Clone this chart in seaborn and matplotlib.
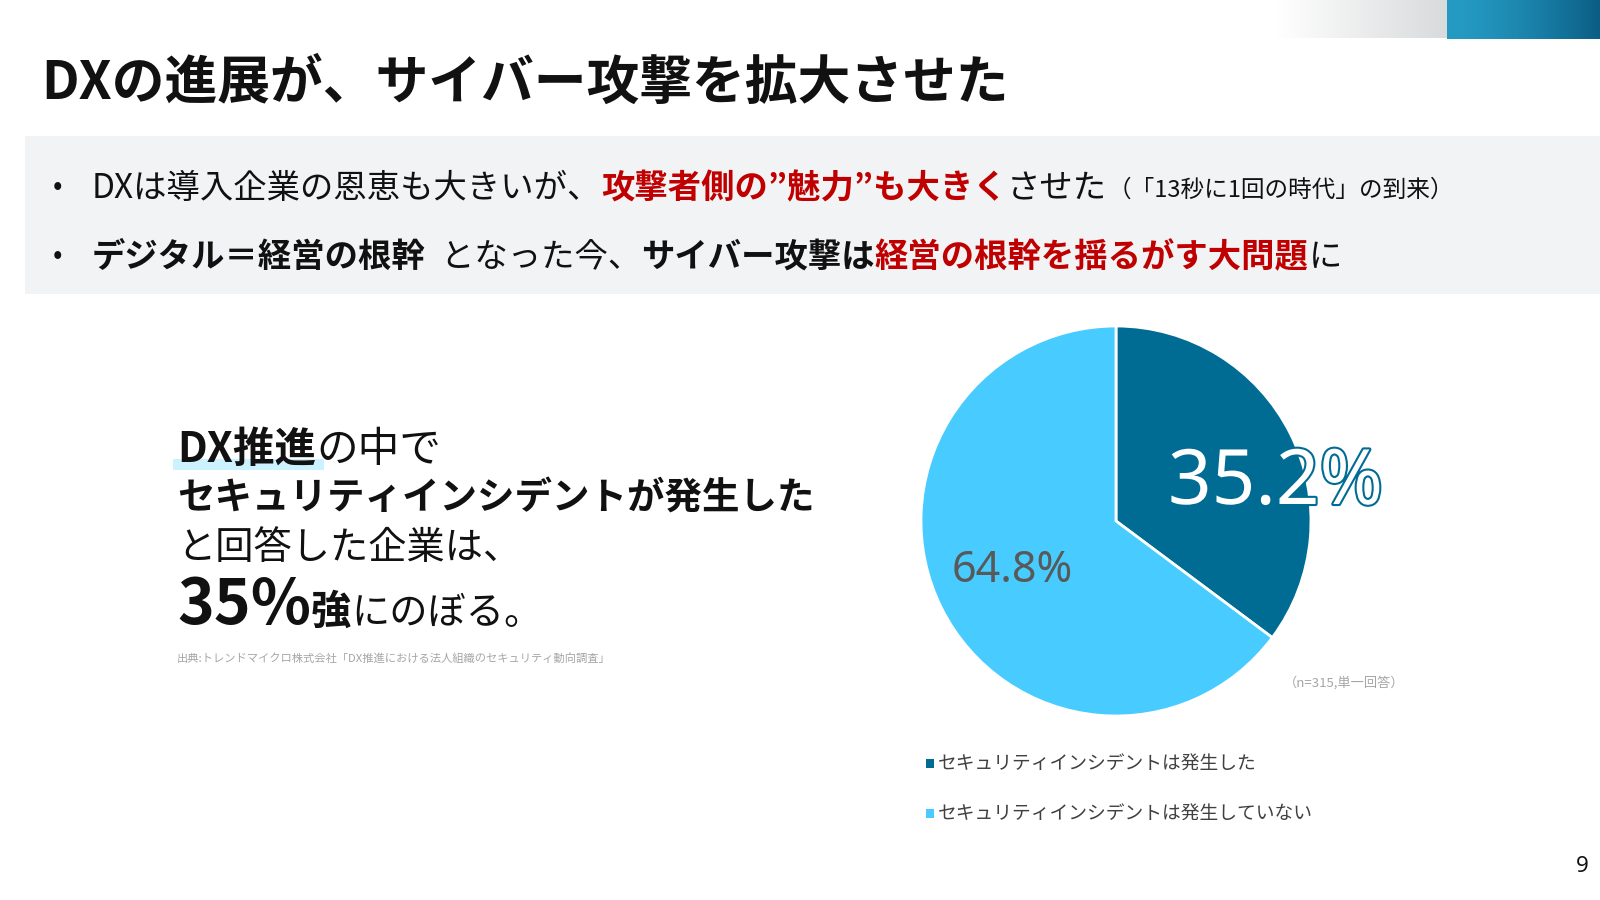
import numpy as np
import matplotlib
matplotlib.use("Agg")
import matplotlib.pyplot as plt
import matplotlib.patheffects as pe
from matplotlib.patches import Rectangle, Patch
import seaborn as sns

# ---------------- data ----------------
categories = ["セキュリティインシデントは発生した", "セキュリティインシデントは発生していない"]
shares = [35.2, 64.8]
share_labels = ["35.2%", "64.8%"]
title_text = "DXの進展が、サイバー攻撃を拡大させた"
bullet1 = [("DXは導入企業の恩恵も大きいが、", "k", "normal"),
           ("攻撃者側の”魅力”も大きく", "r", "bold"),
           ("させた", "k", "normal")]
bullet1_note = "（「13秒に1回の時代」の到来）"
bullet2 = [("デジタル＝経営の根幹", "k", "bold"),
           ("  となった今、", "k", "normal"),
           ("サイバー攻撃は", "k", "bold"),
           ("経営の根幹を揺るがす大問題", "r", "bold"),
           ("に", "k", "normal")]
source_text = "出典:トレンドマイクロ株式会社「DX推進における法人組織のセキュリティ動向調査」"
n_text = "（n=315,単一回答）"
page_no = "9"

# ---------------- style ----------------
sns.set_theme(style="white")
plt.rcParams['font.family'] = ['Noto Sans CJK JP', 'DejaVu Sans']
DARK = "#006C94"
LIGHT = "#48CCFF"
RED = "#C00000"
BLACK = "#111111"
palette = sns.color_palette([DARK, LIGHT])
colmap = {"k": BLACK, "r": RED}

W, H = 1600, 900
fig = plt.figure(figsize=(16, 9), dpi=100, facecolor="white")

# pie axes (pixel geometry: center 1116,521 radius 195)
cx, cy, R = 1116, 521, 195
pax = fig.add_axes([(cx - R) / W, 1 - (cy + R) / H, 2 * R / W, 2 * R / H], zorder=1)
wedges, _ = pax.pie(shares, colors=palette, startangle=90, counterclock=False,
                    radius=1, wedgeprops=dict(edgecolor="white", linewidth=2))
pax.set_xlim(-1, 1)
pax.set_ylim(-1, 1)
pax.set_aspect("equal")
pax.axis("off")

# overlay axes in pixel coordinates
bg = fig.add_axes([0, 0, 1, 1], zorder=2)
bg.patch.set_alpha(0)
bg.axis("off")

# top-right decorations
g = np.linspace(0, 1, 256)
gray = np.ones((2, 256, 4))
for i, (a, b) in enumerate(zip((1, 1, 1), (0.85, 0.855, 0.86))):
    gray[:, :, i] = a + (b - a) * g
bg.imshow(gray, extent=[1276, 1447, 38, 0], aspect="auto", interpolation="bilinear")
blue = np.ones((2, 256, 4))
c0 = np.array([0x25, 0x9B, 0xC4]) / 255
c1 = np.array([0x0B, 0x5D, 0x84]) / 255
for i in range(3):
    blue[:, :, i] = c0[i] + (c1[i] - c0[i]) * g ** 1.5
bg.imshow(blue, extent=[1447, 1600, 39, 0], aspect="auto", interpolation="bilinear")

bg.set_xlim(0, W)
bg.set_ylim(H, 0)

# gray band
bg.add_patch(Rectangle((25, 136), W - 25, 158, color="#F2F3F5", lw=0, zorder=0))

renderer = fig.canvas.get_renderer()


def draw_runs(x, y, parts, **kw):
    for txt, color, weight, size in parts:
        t = bg.text(x, y, txt, color=color, fontweight=weight, fontsize=size,
                    va="baseline", ha="left", **kw)
        bb = t.get_window_extent(renderer=renderer)
        x += bb.width
    return x


# title
bg.text(41, 99, title_text, fontsize=38, fontweight="bold", color=BLACK, va="baseline")

# bullets
bg.text(58, 187, "•", fontsize=20, ha="center", va="center", color=BLACK)
x_end = draw_runs(92, 198, [(t, colmap[c], w, 24) for t, c, w in bullet1])
draw_runs(x_end, 197, [(bullet1_note, BLACK, "normal", 17)])
bg.text(58, 256, "•", fontsize=20, ha="center", va="center", color=BLACK)
draw_runs(92, 267, [(t, colmap[c], w, 24) for t, c, w in bullet2])

# left text block
bg.add_patch(Rectangle((173, 459), 151, 11, color="#CCF2FF", lw=0, zorder=0))
draw_runs(177, 462, [("DX推進", BLACK, "bold", 30), ("の中で", BLACK, "normal", 30)])
draw_runs(177, 510, [("セキュリティインシデントが発生した", BLACK, "bold", 27)])
draw_runs(177, 559, [("と回答した企業は、", BLACK, "normal", 27.5)])
draw_runs(177, 624, [("35%", BLACK, "bold", 45), ("強", BLACK, "bold", 29),
                     ("にのぼる。", BLACK, "normal", 27.5)])
bg.text(177, 662, source_text, fontsize=8.15, color="#A6A6A6", va="baseline")

# pie value labels
bg.text(1168, 504, share_labels[0], fontsize=55, color="white", fontweight="medium",
        family=["Noto Sans", "DejaVu Sans"], va="baseline",
        path_effects=[pe.withStroke(linewidth=3, foreground=DARK)])
bg.text(952, 582, share_labels[1], fontsize=31, color="#595959",
        family=["Noto Sans", "DejaVu Sans"], va="baseline")
bg.text(1284, 687, n_text, fontsize=9.5, color="#A6A6A6", va="baseline")

# legend
handles = [Patch(facecolor=c, edgecolor="none") for c in palette]
fig.legend(handles, categories, loc="upper left", bbox_to_anchor=(926 / W, 1 - 754 / H),
           frameon=False, fontsize=13.5, handlelength=0.4, handleheight=0.4,
           handletextpad=0.25, labelspacing=1.55, labelcolor="#404040",
           borderpad=0, borderaxespad=0)

# page number
bg.text(1582, 867, page_no, fontsize=16, ha="center", va="center", color=BLACK,
        family=["Noto Sans", "DejaVu Sans"])

fig.savefig("out.png", dpi=100, facecolor="white")
